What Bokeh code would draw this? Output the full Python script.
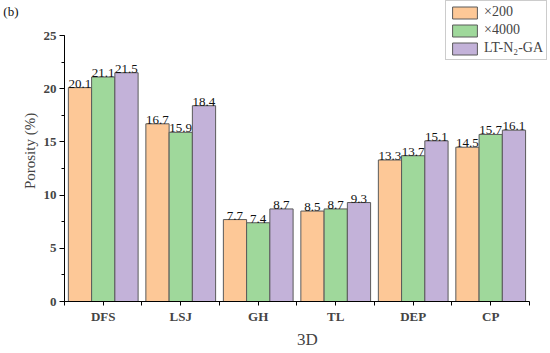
import numpy as np
from bokeh.plotting import figure
from bokeh.models import (ColumnDataSource, Legend, LegendItem, FixedTicker, Range1d,
                          LabelSet, LinearAxis)
from bokeh.embed import file_html
from bokeh.resources import INLINE

categories = ["DFS", "LSJ", "GH", "TL", "DEP", "CP"]
series_names = ["\u00d7200", "\u00d74000", "LT-N\u2082-GA"]
x200 = [20.1, 16.7, 7.7, 8.5, 13.3, 14.5]
x4000 = [21.1, 15.9, 7.4, 8.7, 13.7, 15.7]
ltn2 = [21.5, 18.4, 8.7, 9.3, 15.1, 16.1]
colors = ["#FDC897", "#9FD89B", "#C3B2D9"]
y_ticks = [0, 5, 10, 15, 20, 25]
panel_tag = "(b)"

FONT = "Liberation Serif"

# frame spans to the top and right canvas edges so the legend is not clipped;
# axes are bounded to the data extent
p = figure(width=550, height=353, output_backend="svg", toolbar_location=None,
           x_range=Range1d(0, 6 * 485 / 464), y_range=Range1d(0, 25 * 301 / 266))
p.min_border_left = 63
p.min_border_right = 0
p.min_border_top = 0
p.min_border_bottom = 52
p.outline_line_color = None
p.grid.visible = False
p.background_fill_color = "white"

centers = np.arange(len(categories)) + 0.5
offsets = [-0.3, 0.0, 0.3]
renderers = []
for vals, off, col in zip([x200, x4000, ltn2], offsets, colors):
    src = ColumnDataSource(dict(x=centers + off, top=vals,
                                lab=[f"{v:.1f}" for v in vals]))
    r = p.vbar(x="x", top="top", width=0.3, bottom=0, source=src,
               fill_color=col, line_color="#5a5a5a", line_width=1)
    renderers.append(r)
    p.add_layout(LabelSet(x="x", y="top", text="lab", source=src,
                          text_align="center", text_baseline="bottom", y_offset=0,
                          text_font=FONT, text_font_size="13px", text_color="#111"))

# x axis
xa = p.xaxis[0]
xa.bounds = (0, 6)
xa.ticker = FixedTicker(ticks=list(np.arange(0, 6.01, 0.5)))
overrides = {}
for i in range(13):
    overrides[float(i * 0.5)] = ""
for c, name in zip(centers, categories):
    overrides[float(c)] = name
xa.major_label_overrides = overrides
xa.axis_label = "3D"
xa.axis_label_text_font = FONT
xa.axis_label_text_font_size = "17px"
xa.axis_label_text_font_style = "normal"
xa.axis_label_standoff = 3
xa.major_label_text_font = FONT
xa.major_label_text_font_style = "bold"
xa.major_label_text_font_size = "13px"
xa.major_tick_in = 0
xa.major_tick_out = 4
xa.minor_tick_out = 0
xa.minor_tick_in = 0
xa.axis_line_color = "black"
xa.major_tick_line_color = "black"
xa.major_label_standoff = 3

ya = p.yaxis[0]
ya.bounds = (0, 25)
ya.ticker = FixedTicker(ticks=y_ticks, minor_ticks=list(np.arange(0, 25.01, 2.5)))
ya.axis_label = "Porosity (%)"
ya.axis_label_text_font = FONT
ya.axis_label_text_font_size = "15px"
ya.axis_label_text_font_style = "normal"
ya.axis_label_standoff = 3
ya.major_label_text_font = FONT
ya.major_label_text_font_style = "bold"
ya.major_label_text_font_size = "13px"
ya.major_tick_in = 0
ya.major_tick_out = 5
ya.minor_tick_in = 0
ya.minor_tick_out = 3
ya.axis_line_color = "black"
ya.major_tick_line_color = "black"
ya.minor_tick_line_color = "black"
ya.major_label_standoff = 3

# panel tag "(b)" as the only label of an invisible outer left axis
tag_axis = LinearAxis(ticker=FixedTicker(ticks=[27.3], minor_ticks=[]),
                      major_label_overrides={27.3: panel_tag},
                      axis_line_color=None, major_tick_line_color=None,
                      minor_tick_line_color=None, major_label_standoff=0,
                      major_tick_in=0, major_tick_out=0,
                      major_label_text_font=FONT, major_label_text_font_size="13px",
                      major_label_text_color="#111")
p.add_layout(tag_axis, "left")

legend = Legend(items=[LegendItem(label=n, renderers=[r]) for n, r in zip(series_names, renderers)],
                location=(381, 241), orientation="vertical",
                glyph_width=31, glyph_height=15, label_text_font=FONT,
                label_text_font_size="14px", label_standoff=4, spacing=2,
                padding=3, margin=0, border_line_color="#999999",
                background_fill_alpha=1.0, label_height=15)
p.add_layout(legend, "center")

open("out.html", "w").write(file_html(p, INLINE))
